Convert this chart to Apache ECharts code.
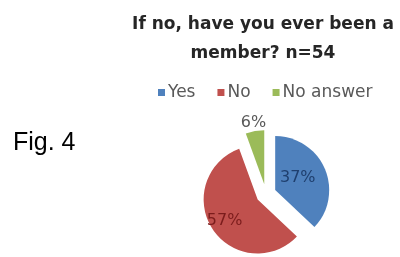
<!DOCTYPE html>
<html>
<head>
<meta charset="utf-8">
<script src="https://cdn.jsdelivr.net/npm/echarts@6/dist/echarts.min.js"></script>
<style>
  html, body { margin: 0; padding: 0; background: #fff; }
  #chart { width: 400px; height: 257px; }
</style>
</head>
<body>
<div id="chart"></div>
<script>
// answers (n=54)
var categories = ["Yes", "No", "No answer"];
var counts = [20, 31, 3];
var colors = ["#4f81bd", "#c0504d", "#9bbb59"];
var labelColors = ["#1f3f6e", "#7b1c1c", "#595959"];

var myChart = echarts.init(document.getElementById("chart"), null, {
    width: 400,
    height: 257,
});

var pieData = categories.map(function (name, i) {
    return {
        name: name,
        value: counts[i],
        selected: true,
        itemStyle: { color: colors[i] },
        label: {
            color: labelColors[i],
            position: i === 2 ? "outside" : "inside",
        },
        labelLine: { show: false, length: 8, length2: 0 },
    };
});

var option = {
    animation: false,
    title: {
        text: "If no, have you ever been a\nmember? n=54",
        left: 263,
        top: 10,
        textAlign: "center",
        padding: 0,
        textStyle: {
            fontFamily: "DejaVu Sans",
            fontWeight: "bold",
            fontSize: 17,
            lineHeight: 29,
            color: "#262626",
        },
    },
    legend: {
        data: categories,
        left: 153,
        top: 79,
        icon: "rect",
        itemWidth: 7,
        itemHeight: 7,
        itemGap: 22,
        textStyle: {
            fontFamily: "DejaVu Sans",
            fontSize: 17,
            color: "#595959",
            padding: [0, 0, 0, -2],
        },
    },
    graphic: [
        {
            type: "text",
            left: 13,
            top: 131,
            style: {
                text: "Fig. 4",
                font: "25px 'Liberation Sans'",
                fill: "#000",
            },
        },
    ],
    series: [
        {
            type: "pie",
            center: [266, 194],
            radius: 54,
            startAngle: 90,
            clockwise: true,
            selectedMode: "multiple",
            selectedOffset: 10,
            emphasis: { disabled: true },
            label: {
                fontFamily: "DejaVu Sans",
                fontSize: 16,
                formatter: function (p) {
                    return Math.round(p.percent) + "%";
                },
            },
            labelLayout: function (p) {
                if (p.dataIndex === 1) {
                    return { dx: -8, dy: 5 };
                }
                if (p.dataIndex === 0) {
                    return { dx: -5, dy: 0 };
                }
                return { align: "center", dx: 5 };
            },
            data: pieData,
        },
    ],
};
myChart.setOption(option);
</script>
</body>
</html>
